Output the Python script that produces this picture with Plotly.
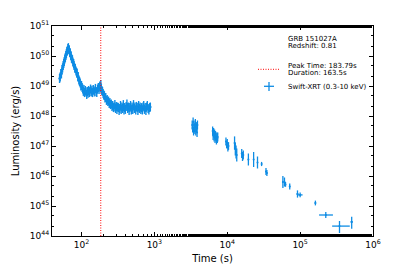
import plotly.graph_objects as go

# ---- data ----
wt_time = [50, 51, 52, 53, 54, 55, 56, 57, 58, 59, 60, 61, 62, 63, 64, 65, 66, 67, 68, 69,
           70, 71, 72, 73, 75, 76, 78, 79, 81, 82, 84, 86, 87, 89, 90, 92, 94, 96, 98, 100,
           102, 104, 106, 108, 110, 113, 115, 118, 120, 123, 125, 128, 130, 133, 136, 139,
           142, 145, 148, 152, 155, 159, 162, 166, 170, 174, 178, 181, 184, 187, 190, 194,
           198, 202, 206, 210, 215, 220, 225, 230, 235, 240, 245, 250, 256, 262, 268, 274,
           280, 287, 293, 300, 306, 313, 320, 328, 335, 343, 350, 358, 366, 375, 383, 392,
           400, 410, 420, 430, 440, 450, 460, 471, 482, 493, 505, 517, 530, 542, 555, 568,
           580, 594, 608, 622, 637, 652, 667, 683, 698, 714, 730, 748, 765, 782, 800, 820,
           840, 860, 880]
wt_loglum = [49.25, 49.3, 49.42, 49.4, 49.55, 49.6, 49.68, 49.75, 49.82, 49.9, 49.95, 50.02,
             50.08, 50.15, 50.18, 50.25, 50.28, 50.22, 50.2, 50.12, 50.1, 50.02, 50.0, 49.92,
             49.88, 49.8, 49.75, 49.68, 49.6, 49.58, 49.5, 49.45, 49.42, 49.3, 49.32, 49.2,
             49.15, 49.1, 49.0, 49.02, 48.95, 48.9, 48.82, 48.88, 48.78, 48.85, 48.8, 48.72,
             48.82, 48.76, 48.85, 48.78, 48.82, 48.9, 48.8, 48.86, 48.78, 48.88, 48.84, 48.8,
             48.92, 48.82, 48.78, 48.9, 48.95, 48.88, 49.0, 48.95, 49.05, 48.9, 48.85, 48.82,
             48.75, 48.7, 48.68, 48.6, 48.62, 48.52, 48.55, 48.48, 48.5, 48.42, 48.45, 48.38,
             48.4, 48.32, 48.35, 48.28, 48.3, 48.38, 48.25, 48.32, 48.22, 48.3, 48.28, 48.18,
             48.25, 48.35, 48.22, 48.3, 48.25, 48.38, 48.2, 48.28, 48.22, 48.32, 48.4, 48.25,
             48.3, 48.18, 48.28, 48.35, 48.2, 48.3, 48.22, 48.38, 48.25, 48.3, 48.2, 48.32,
             48.28, 48.18, 48.35, 48.25, 48.3, 48.22, 48.28, 48.2, 48.3, 48.35, 48.22, 48.28,
             48.18, 48.3, 48.35, 48.25, 48.2, 48.28, 48.3]
wt_logerr = [0.15] * len(wt_time)

pc_time = [3300, 3350, 3400, 3450, 3500, 3550, 3600, 3650, 3700, 3750, 3800, 3850, 3900,
           6300, 6400, 6500, 6600, 6700, 6800, 6900, 7000, 7100, 7200, 7300, 7400,
           9600, 9800, 10000, 10200, 10400,
           12600, 12900, 13200, 13500,
           15800, 16200, 16600,
           19500, 23000, 26000, 29600, 34000, 35000,
           58000, 61000, 63000, 72000, 92000, 100000, 162000,
           225000, 347000, 510000]
pc_loglum = [47.7, 47.6, 47.8, 47.5, 47.7, 47.6, 47.55, 47.75, 47.5, 47.65, 47.6, 47.45, 47.7,
             47.5, 47.35, 47.45, 47.3, 47.4, 47.25, 47.35, 47.3, 47.2, 47.3, 47.25, 47.3,
             47.15, 47.05, 47.1, 46.95, 47.0,
             47.1, 46.9, 46.8, 46.7,
             46.75, 46.65, 46.7,
             46.55, 46.55, 46.45, 46.4, 46.15, 46.1,
             45.8, 45.8, 45.72, 45.65, 45.4, 45.37, 45.1,
             44.7, 44.33, 44.47]
pc_logerr_up = [0.15] * 13 + [0.15] * 12 + [0.13] * 5 + [0.22] * 4 + [0.15] * 3 + \
               [0.2, 0.25, 0.2, 0.07, 0.12, 0.1] + [0.2, 0.15, 0.08, 0.1, 0.12, 0.08, 0.08] + \
               [0.1, 0.17, 0.17]
pc_logerr_dn = [0.15] * 13 + [0.15] * 12 + [0.13] * 5 + [0.22] * 4 + [0.15] * 3 + \
               [0.2, 0.25, 0.2, 0.07, 0.12, 0.1] + [0.2, 0.15, 0.08, 0.1, 0.12, 0.08, 0.08] + \
               [0.1, 0.23, 0.23]
pc_terr_up = [20] * 13 + [40] * 12 + [60] * 5 + [80] * 4 + [100] * 3 + \
             [300, 300, 300, 400, 500, 500] + [700, 800, 900, 1000, 3000, 8000, 4000] + \
             [57000, 133000, 20000]
pc_terr_dn = [20] * 13 + [40] * 12 + [60] * 5 + [80] * 4 + [100] * 3 + \
             [300, 300, 300, 400, 500, 500] + [700, 800, 900, 1000, 3000, 8000, 4000] + \
             [43000, 72000, 20000]

peak_time = 183.79
grb_name = "GRB 151027A"
redshift = 0.81
duration = 163.5

x_ticks = [1e2, 1e3, 1e4, 1e5, 1e6]
x_ticktext = ["10<sup>2</sup>", "10<sup>3</sup>", "10<sup>4</sup>", "10<sup>5</sup>", "10<sup>6</sup>"]
y_ticks = [1e44, 1e45, 1e46, 1e47, 1e48, 1e49, 1e50, 1e51]
y_ticktext = ["10<sup>%d</sup>" % e for e in range(44, 52)]

BLUE = "#0e8ce4"

def lum(lst):
    return [10 ** v for v in lst]

wt_L = lum(wt_loglum)
wt_up = [10 ** (v + e) - 10 ** v for v, e in zip(wt_loglum, wt_logerr)]
wt_dn = [10 ** v - 10 ** (v - e) for v, e in zip(wt_loglum, wt_logerr)]
pc_L = lum(pc_loglum)
pc_up = [10 ** (v + e) - 10 ** v for v, e in zip(pc_loglum, pc_logerr_up)]
pc_dn = [10 ** v - 10 ** (v - e) for v, e in zip(pc_loglum, pc_logerr_dn)]
wt_terr = [t * 0.012 for t in wt_time]

fig = go.Figure()
fig.add_trace(go.Scatter(
    x=wt_time, y=wt_L, mode="markers",
    marker=dict(size=2.5, color=BLUE),
    error_y=dict(type="data", symmetric=False, array=wt_up, arrayminus=wt_dn,
                 color=BLUE, thickness=1.4, width=0),
    error_x=dict(type="data", array=wt_terr, color=BLUE, thickness=1.4, width=0),
    showlegend=False))
fig.add_trace(go.Scatter(
    x=pc_time, y=pc_L, mode="markers",
    marker=dict(size=2, color=BLUE),
    error_y=dict(type="data", symmetric=False, array=pc_up, arrayminus=pc_dn,
                 color=BLUE, thickness=1.3, width=0),
    error_x=dict(type="data", symmetric=False, array=pc_terr_up, arrayminus=pc_terr_dn,
                 color=BLUE, thickness=1.3, width=0),
    showlegend=False))

fig.add_shape(type="line", xref="x", yref="paper", x0=peak_time, x1=peak_time, y0=0, y1=1,
              line=dict(color="red", width=1, dash="1px,1.5px"))

# legend-like annotations
fnt = dict(family="DejaVu Sans", size=7, color="black")
def px2paper(px, py):
    return (px - 52) / 321.0, (236 - py) / 210.0

for txt, py in [(grb_name, 38.5), ("Redshift: %.2f" % redshift, 46.3),
                ("Peak Time: %.2fs" % peak_time, 66.3), ("Duration: %.1fs" % duration, 72.8),
                ("Swift-XRT (0.3-10 keV)", 87.3)]:
    xx, yy = px2paper(286.5, py)
    fig.add_annotation(x=xx, y=yy, xref="paper", yref="paper", text=txt, showarrow=False,
                       xanchor="left", yanchor="middle", font=fnt, borderpad=0)
a0 = px2paper(258, 69.3); a1 = px2paper(279, 69.3)
fig.add_shape(type="line", xref="paper", yref="paper", x0=a0[0], x1=a1[0], y0=a0[1], y1=a1[1],
              line=dict(color="red", width=1, dash="1px,1.5px"))
c0 = px2paper(264, 86.3); c1 = px2paper(274, 86.3)
fig.add_shape(type="line", xref="paper", yref="paper", x0=c0[0], x1=c1[0], y0=c0[1], y1=c1[1],
              line=dict(color=BLUE, width=1.3))
d0 = px2paper(269, 82); d1 = px2paper(269, 91)
fig.add_shape(type="line", xref="paper", yref="paper", x0=d0[0], x1=d1[0], y0=d0[1], y1=d1[1],
              line=dict(color=BLUE, width=1.3))

axis_common = dict(showline=True, linecolor="black", linewidth=1, mirror="allticks",
                   ticks="inside", ticklen=4, tickcolor="black", tickwidth=0.8,
                   showgrid=False, zeroline=False, automargin=False,
                   tickfont=dict(family="DejaVu Sans", size=9, color="black"),
                   minor=dict(ticks="inside", ticklen=2, tickcolor="black", tickwidth=0.6,
                              showgrid=False))

fig.update_xaxes(type="log", range=[1.595, 6.0], tickvals=x_ticks, ticktext=x_ticktext,
                 title=dict(text="Time (s)", font=dict(family="DejaVu Sans", size=10, color="black"),
                            standoff=6),
                 **axis_common)
fig.update_yaxes(type="log", range=[44, 51], tickvals=y_ticks, ticktext=y_ticktext,
                 title=dict(text="Luminosity (erg/s)", font=dict(family="DejaVu Sans", size=10, color="black"),
                            standoff=8),
                 **axis_common)

fig.update_layout(width=415, height=270, margin=dict(l=52, r=42, t=26, b=34),
                  paper_bgcolor="white", plot_bgcolor="white", showlegend=False)

fig.write_html("out.html", config={"displayModeBar": False},
               post_script="document.body.style.margin='0';document.body.style.padding='0';")
